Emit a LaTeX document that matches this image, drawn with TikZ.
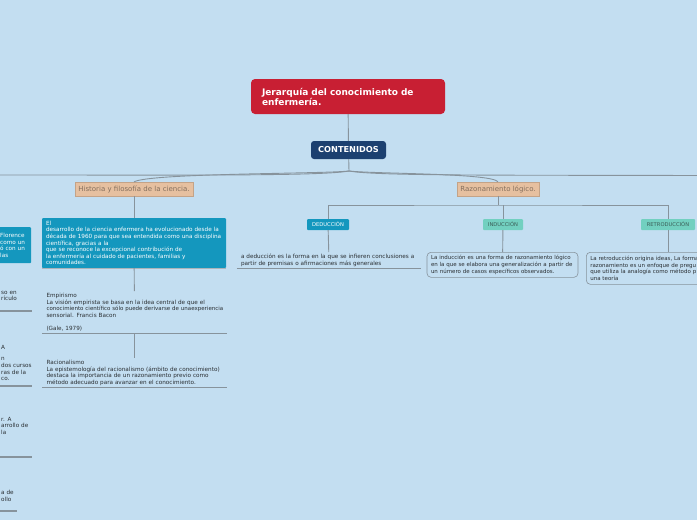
\documentclass[tikz,border=0pt]{standalone}
\usepackage{fontspec}
\setmainfont{DejaVu Sans}
\usetikzlibrary{positioning, calc}

\definecolor{bgblue}{HTML}{C3DEF1}
\definecolor{titlered}{HTML}{C81F33}
\definecolor{navy}{HTML}{1C4070}
\definecolor{peach}{HTML}{E6C0A0}
\definecolor{peachtxt}{HTML}{85705E}
\definecolor{tealbox}{HTML}{1497BE}
\definecolor{mint}{HTML}{72D0C0}
\definecolor{minttxt}{HTML}{3B5E58}
\definecolor{linegray}{HTML}{87939C}
\definecolor{txtdark}{HTML}{2A2F33}

\newcommand{\smalltxt}{\fontsize{5.7}{6.6}\selectfont\hyphenpenalty=10000\exhyphenpenalty=10000}
\newcommand{\boxtxt}{\fontsize{5.5}{6.6}\selectfont}

\begin{document}
\begin{tikzpicture}[x=1pt, y=-1pt,
    titlebox/.style={fill=titlered, rounded corners=4pt, text=white, font=\fontsize{9}{10}\selectfont\bfseries,
        text width=172pt, align=left, minimum height=35pt, inner xsep=11pt, inner ysep=0pt},
    navybox/.style={fill=navy, rounded corners=3pt, text=white, font=\fontsize{8.2}{9}\selectfont\bfseries,
        minimum width=75pt, minimum height=18pt, inner sep=0pt},
    topicbox/.style={fill=peach, draw=peach!85!black, line width=0.3pt, text=peachtxt, font=\fontsize{7}{8}\selectfont,
        minimum width=118pt, minimum height=14pt, inner sep=0pt},
    subbox/.style={rounded corners=1pt, font=\fontsize{5.2}{6}\selectfont, minimum height=11pt, inner sep=0pt},
    tealnote/.style={fill=tealbox, rounded corners=1pt, text=white, font=\smalltxt, align=left,
        inner xsep=4pt, inner ysep=0pt},
    note/.style={text=txtdark, font=\smalltxt, align=left, inner xsep=4pt, inner ysep=2pt},
    framed/.style={note, font=\boxtxt, draw=linegray, line width=0.6pt, rounded corners=4pt},
    link/.style={draw=linegray, line width=0.9pt},
    uline/.style={draw=linegray, line width=1.3pt}
]
    \fill[bgblue] (0,0) rectangle (697,520);
    \useasboundingbox (0,0) rectangle (697,520);
    \clip (0,0) rectangle (697,520);

    % main
    \node[titlebox] (title) at (348,96.5) {Jerarquía del conocimiento de\\enfermería.};
    \node[navybox]  (cont)  at (348.5,150) {CONTENIDOS};
    \coordinate (hub) at (349,171);
    \coordinate (leftend) at (0,175);
    \coordinate (rightend) at (697,175.5);

    \node[topicbox] (hist) at (134,189) {Historia y filosofía de la ciencia.};
    \node[topicbox, minimum width=82pt] (raz) at (498,189) {Razonamiento lógico.};

    \draw[link] (title) -- (cont);
    \draw[link] (cont) -- (hub);
    \draw[link] (hub) .. controls (322,176) and (200,175) .. (leftend);
    \draw[link] (hub) .. controls (322,174) and (150,173) .. (hist.north);
    \draw[link] (hub) .. controls (376,176) and (500,175) .. (rightend);
    \draw[link] (hub) .. controls (376,174) and (492,173) .. (raz.north);

    % historia y filosofia
    \node[tealnote, text width=176pt, minimum height=50pt] (origin) at (134,243)
        {El\\desarrollo de la ciencia enfermera ha evolucionado desde la\\década de 1960 para que sea entendida como una disciplina\\científica, gracias a la\\que se reconoce la excepcional contribución de\\la enfermería al cuidado de pacientes, familias y\\comunidades.};
    \draw[linegray!70, line width=0.8pt] (origin.south west) -- (origin.south east);

    \node[note, text width=176pt, anchor=north] (emp) at (134.5,291)
        {Empirismo\\La visión empirista se basa en la idea central de que el\\{\fontsize{5.5}{6.6}\selectfont\mbox{conocimiento científico sólo puede derivarse de unaexperiencia}}\\sensorial. Francis Bacon\\[6.6pt](Gale, 1979)};
    \node[note, text width=176pt, anchor=north] (rac) at (134.5,358)
        {Racionalismo\\La epistemología del racionalismo (ámbito de conocimiento)\\destaca la importancia de un razonamiento previo como\\método adecuado para avanzar en el conocimiento.};
    \draw[uline] (emp.south west) -- (emp.south east);
    \draw[uline] (rac.south west) -- (rac.south east);

    \draw[link] (hist) -- (origin);
    \draw[link] (origin) -- (emp);
    \draw[link] (emp.south) -- (rac.north);

    % razonamiento logico
    \coordinate (rbar) at (498,205);
    \node[subbox, fill=tealbox, text=white, minimum width=42pt] (ded) at (328,224.5) {DEDUCCIÓN};
    \node[subbox, fill=mint, text=minttxt, minimum width=40pt] (ind) at (503,224.5) {INDUCCIÓN};
    \node[subbox, fill=mint, text=minttxt, minimum width=54pt] (retro) at (668,224.5) {RETRODUCCIÓN};

    \draw[link] (raz) -- (rbar);
    \draw[link] (ded.north) |- (rbar) -| (retro.north);
    \draw[link] (ind.north) -- (ind.north |- rbar);

    \node[note, text width=176pt, anchor=north] (dedtxt) at (329,252)
        {a deducción es la forma en la que se infieren conclusiones a\\partir de premisas o afirmaciones más generales};
    \draw[uline] (dedtxt.south west) -- (dedtxt.south east);
    \node[framed, text width=143pt, minimum height=25pt, anchor=north] (indtxt) at (502.5,252)
        {La inducción es una forma de razonamiento lógico\\en la que se elabora una generalización a partir de\\un número de casos específicos observados.};
    \node[framed, text width=156pt, minimum height=32pt, anchor=north west] (retrotxt) at (586,252)
        {La retroducción origina ideas, La forma\\razonamiento es un enfoque de pregu\\que utiliza la analogía como método p\\una teoría};

    \draw[link] (ded) -- (dedtxt);
    \draw[link] (ind) -- (indtxt);
    \draw[link] (retro.south) -- (retro.south |- retrotxt.north);

    % cut-off branch on the left
    \node[tealnote, text width=27pt, minimum height=36pt, anchor=north west] (leftbox) at (-4,227)
        {Florence\\como un\\ó con un\\las};
    \node[note, text width=40pt, inner xsep=1pt, anchor=north west] (frag1) at (0,289) {so en\\rículo};
    \draw[uline] (0,311) -- (32,311);
    \node[note, text width=40pt, inner xsep=1pt, anchor=north west] (frag2) at (0,343)
        {A\\[5pt]n\\dos cursos\\ras de la\\co.};
    \draw[uline] (0,386) -- (32,386);
    \node[note, text width=40pt, inner xsep=1pt, anchor=north west] (frag3) at (0,415)
        {r. A\\arrollo de\\la};
    \draw[uline] (0,457) -- (32,457);
    \node[note, text width=40pt, inner xsep=1pt, anchor=north west] (frag4) at (0,488)
        {a de\\ollo};
    \draw[uline] (0,511) -- (17,511);
\end{tikzpicture}
\end{document}
